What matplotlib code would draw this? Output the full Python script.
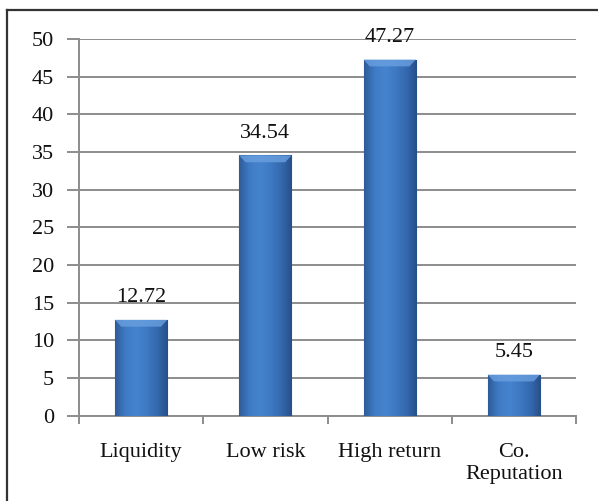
import numpy as np
import matplotlib.pyplot as plt
from matplotlib.colors import LinearSegmentedColormap
from matplotlib.lines import Line2D

categories = ['Liquidity', 'Low risk', 'High return', 'Co.\nReputation']
values = [12.72, 34.54, 47.27, 5.45]
y_ticks = [0, 5, 10, 15, 20, 25, 30, 35, 40, 45, 50]

plt.rcParams['font.family'] = ['Liberation Serif', 'DejaVu Serif']

fig = plt.figure(figsize=(5.98, 5.01), dpi=100)
ax = fig.add_axes([79 / 598, 85.3 / 501, 497 / 598, 376.7 / 501])

# outer frame (left and top edges visible)
fig.add_artist(Line2D([7 / 598, 7 / 598], [0, 491 / 501], color='#333333', lw=1.6,
                      transform=fig.transFigure))
fig.add_artist(Line2D([7 / 598, 1.0], [491 / 501, 491 / 501], color='#333333', lw=1.6,
                      transform=fig.transFigure))

x = np.arange(len(categories))
bars = ax.bar(x, values, width=0.42, color='#3A72BC', edgecolor='#2B5690',
              linewidth=0.8, zorder=3)

# shaded fill for each bar: dark edges, lighter body
cmap = LinearSegmentedColormap.from_list(
    'barshade', ['#2E5B98', '#3F7BC5', '#4683CE', '#3E79C3', '#3469AE', '#274F88'])
grad = np.linspace(0, 1, 256).reshape(1, -1)
for b in bars:
    x0, y0 = b.get_x(), b.get_y()
    w, h = b.get_width(), b.get_height()
    im = ax.imshow(grad, cmap=cmap, aspect='auto', extent=[x0, x0 + w, y0, y0 + h],
                   zorder=3.5)
    im.set_clip_path(b)
    # light bevel along the top
    bev = min(0.9, h * 0.2)
    ax.fill([x0, x0 + w, x0 + w - 0.05, x0 + 0.05], [y0 + h, y0 + h, y0 + h - bev, y0 + h - bev],
            color='#6AA0E0', alpha=0.8, zorder=3.6, lw=0)

for xi, v in zip(x, values):
    ax.annotate(f'{v:.2f}', (xi, v), xytext=(0, 9), textcoords='offset points',
                ha='center', va='bottom', fontsize=16, color='#111111', zorder=5)

ax.set_xlim(-0.5, len(categories) - 0.5)
ax.set_ylim(0, 50)
ax.set_yticks(y_ticks)
ax.yaxis.grid(True, color='#8c8c8c', lw=1.4, zorder=0)
ax.set_axisbelow(True)

ax.set_xticks(np.arange(-0.5, len(categories)), minor=False)
ax.set_xticklabels([])
ax.set_xticks(x, minor=True)
ax.set_xticklabels(categories, minor=True, fontsize=16, color='#111111', linespacing=1.2)
ax.tick_params(axis='x', which='major', length=6, width=1.4, color='#8c8c8c', direction='out')
ax.tick_params(axis='x', which='minor', length=0, pad=20)
ax.tick_params(axis='y', length=9, width=1.4, color='#8c8c8c', labelsize=16,
               labelcolor='#111111', pad=9)
for lbl in ax.get_xticklabels(minor=True):
    lbl.set_verticalalignment('top')

for s in ['top', 'right']:
    ax.spines[s].set_visible(False)
for s in ['left', 'bottom']:
    ax.spines[s].set_color('#8c8c8c')
    ax.spines[s].set_linewidth(1.4)

fig.savefig('out.png', dpi=100, facecolor='white')
